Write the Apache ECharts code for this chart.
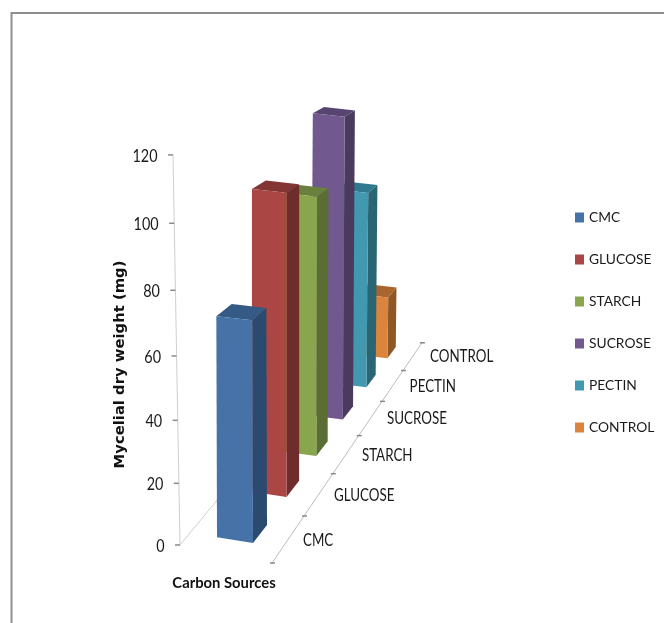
<!DOCTYPE html>
<html>
<head>
<meta charset="utf-8">
<style>html,body{margin:0;padding:0;background:#fff}#c{width:664px;height:623px}</style>
<script src="https://cdn.jsdelivr.net/npm/echarts@6/dist/echarts.min.js"></script>
</head>
<body>
<div id="c"></div>
<script>
const categories = ['CMC', 'GLUCOSE', 'STARCH', 'SUCROSE', 'PECTIN', 'CONTROL'];
const dryWeights = [67.5, 95, 83.5, 100.5, 66.5, 21.5];
const yTicks = [0, 20, 40, 60, 80, 100, 120];
const frontColors = ['#4672A8', '#AA4643', '#89A54E', '#71588F', '#4198AF', '#DB843D'];
const topColors = ['#345A85', '#833533', '#6A803D', '#574470', '#2F7A90', '#A9652E'];
const sideColors = ['#2B4A70', '#6E2D2A', '#5A6E33', '#4A3A5E', '#2A6573', '#8F5626'];

const FONT = 'Lato,"Liberation Sans",sans-serif';

// Oblique perspective helpers: map depth (category index) to the floor.
function depthT(d, r) { return (1 - Math.pow(r, d)) / (1 - r); }
function rise(y, d) { return (7 + 0.0258 * (y - 117)) * (1 - 0.03 * d); }
function axisLift(L) { return 0.941 * L + 0.000159 * L * L; }

function renderBar(params, api) {
  const d = api.value(0), v = api.value(1);
  const y0 = api.coord([d, 0])[1], yv = api.coord([d, v])[1];
  const t = depthT(d, 0.89);
  const xr = 253 + 33.5 * t, yr = 543 - 46 * t;
  const w = 36 * Math.pow(0.96, d);
  const h = (y0 - yv) * (3.3 / 3.241) * Math.pow(0.97, d);
  const lean = (d - 1) * 0.003 * h;
  const dx = 14 * Math.pow(0.9, d);
  const sB = 0.16 - 0.01 * d, sT = 0.11;
  const BR = [xr, yr], BL = [xr - w, yr - w * sB];
  const TR = [xr + lean, yr - h], TL = [xr + lean - w, yr - h - w * sT];
  const BRb = [BR[0] + dx, BR[1] - rise(BR[1], d)];
  const TRb = [TR[0] + dx, TR[1] - rise(TR[1], d)];
  const TLb = [TL[0] + dx * 1.1, TL[1] - rise(TL[1], d)];
  const poly = (pts, fill) => ({ type: 'polygon', shape: { points: pts }, style: { fill: fill } });
  return {
    type: 'group',
    children: [
      poly([BR, BRb, TRb, TR], sideColors[d]),
      poly([TL, TLb, TRb, TR], topColors[d]),
      poly([BL, BR, TR, TL], frontColors[d])
    ]
  };
}

function renderValueAxis(params, api) {
  const v = api.value(1);
  const y0 = api.coord([0, 0])[1];
  const yTop = api.coord([0, yTicks[yTicks.length - 1]])[1];
  const L = y0 - api.coord([0, v])[1];
  const y = y0 - axisLift(L);
  const x = 180 - 7 * L / (y0 - yTop);
  const children = [
    { type: 'line', shape: { x1: x - 5, y1: y, x2: x, y2: y }, style: { stroke: '#8a8a8a', lineWidth: 1.5 } },
    { type: 'text', x: x - 15.5, y: y + 1, scaleX: 0.8, style: { text: String(v), font: '18px ' + FONT, fill: '#1a1a1a', align: 'right', verticalAlign: 'middle' } }
  ];
  if (params.dataIndex === 0) {
    children.unshift(
      { type: 'line', shape: { x1: 180, y1: y0, x2: 173, y2: y0 - axisLift(y0 - yTop) }, style: { stroke: '#cfcfcf', lineWidth: 1 } },
      { type: 'line', shape: { x1: 180, y1: y0, x2: 218, y2: 499 }, style: { stroke: '#cfcfcf', lineWidth: 1 } }
    );
  }
  return { type: 'group', children: children };
}

function renderCategoryAxis(params, api) {
  const d = api.value(0);
  const pt = b => { const t = depthT(b, 0.9); return [272 + 32 * t, 563 - 47 * t]; };
  const tick = p => ({ type: 'line', shape: { x1: p[0] - 2, y1: p[1], x2: p[0] + 3, y2: p[1] }, style: { stroke: '#8a8a8a', lineWidth: 1.5 } });
  const t = depthT(d, 0.9);
  const children = [
    tick(pt(d)),
    { type: 'text', x: 303 + 31 * t, y: 541 - 45 * t, scaleX: 0.81, style: { text: categories[d], font: '16.5px ' + FONT, fill: '#1a1a1a', align: 'left', verticalAlign: 'middle' } }
  ];
  if (d === 0) {
    const end = pt(categories.length);
    children.unshift({ type: 'line', shape: { x1: pt(0)[0], y1: pt(0)[1], x2: end[0], y2: end[1] }, style: { stroke: '#bdbdbd', lineWidth: 1 } });
    children.push(tick(end));
  }
  return { type: 'group', children: children };
}

const barSeries = categories.map((name, i) => ({
  name: name,
  type: 'custom',
  coordinateSystem: 'cartesian2d',
  renderItem: renderBar,
  clip: false,
  silent: true,
  z: 10 + categories.length - i,
  itemStyle: { color: frontColors[i] },
  data: [[i, dryWeights[i]]]
}));

const chart = echarts.init(document.getElementById('c'), null, { renderer: 'canvas' });
chart.setOption({
  animation: false,
  backgroundColor: '#fff',
  grid: { left: 180, top: 156, bottom: 78, width: 240 },
  xAxis: {
    type: 'category',
    data: categories,
    name: 'Carbon Sources',
    nameLocation: 'middle',
    nameGap: 31,
    nameTextStyle: { fontFamily: FONT, fontWeight: 'bold', fontSize: 14.8, color: '#111', padding: [0, 152, 0, 0] },
    axisLine: { show: false }, axisTick: { show: false }, axisLabel: { show: false }, splitLine: { show: false }
  },
  yAxis: {
    type: 'value',
    min: 0, max: 120, interval: 20,
    name: 'Mycelial dry weight (mg)',
    nameLocation: 'middle',
    nameGap: 52,
    nameTextStyle: { fontFamily: '"DejaVu Sans",sans-serif', fontWeight: 'bold', fontSize: 14.8, color: '#111', padding: [0, 28, 0, 0] },
    axisLine: { show: false }, axisTick: { show: false }, axisLabel: { show: false }, splitLine: { show: false }
  },
  legend: {
    orient: 'vertical',
    left: 570,
    top: 204,
    itemWidth: 9,
    itemHeight: 10,
    itemGap: 25,
    icon: 'rect',
    selectedMode: false,
    textStyle: { fontFamily: FONT, fontSize: 13.8, color: '#1a1a1a', lineHeight: 17 },
    data: categories
  },
  graphic: [{
    type: 'polyline',
    shape: { points: [[11.5, 623], [11.5, 13], [664, 13]] },
    style: { stroke: '#8f8f8f', lineWidth: 2, fill: null },
    silent: true
  }],
  series: [
    { name: 'value axis', type: 'custom', renderItem: renderValueAxis, clip: false, silent: true, z: 2, data: yTicks.map(v => [0, v]) },
    { name: 'category axis', type: 'custom', renderItem: renderCategoryAxis, clip: false, silent: true, z: 2, data: categories.map((c, i) => [i, 0]) }
  ].concat(barSeries)
});
</script>
</body>
</html>
